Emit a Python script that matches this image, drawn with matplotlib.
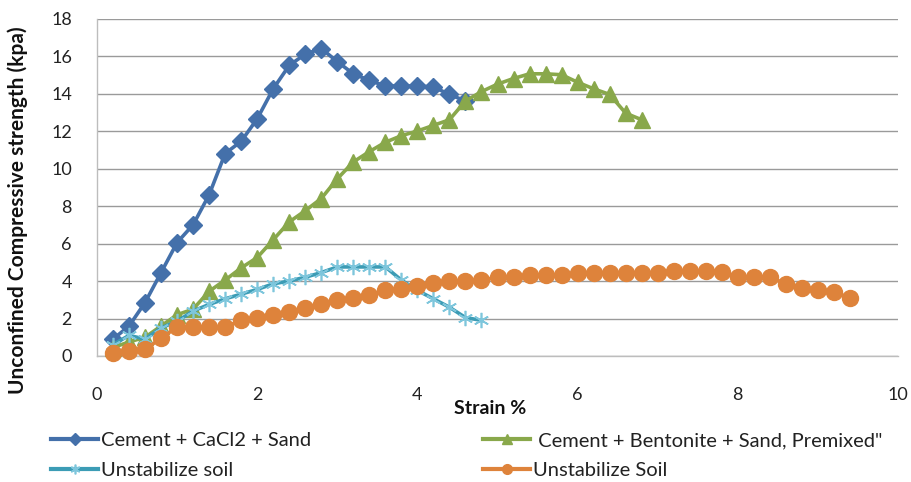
import matplotlib
matplotlib.use("Agg")
import matplotlib.pyplot as plt
from matplotlib.lines import Line2D

plt.rcParams['font.family'] = ['Lato', 'DejaVu Sans']

# Data (strain %, strength kpa)
blue_x = [0.2, 0.4, 0.6, 0.8, 1.0, 1.2, 1.4, 1.6, 1.8, 2.0, 2.2, 2.4, 2.6, 2.8, 3.0, 3.2,
          3.4, 3.6, 3.8, 4.0, 4.2, 4.4, 4.6]
blue_y = [0.9, 1.6, 2.85, 4.45, 6.05, 7.0, 8.6, 10.8, 11.45, 12.65, 14.25, 15.5, 16.1, 16.4,
          15.7, 15.05, 14.7, 14.4, 14.4, 14.4, 14.35, 13.95, 13.6]

green_x = [0.2, 0.4, 0.6, 0.8, 1.0, 1.2, 1.4, 1.6, 1.8, 2.0, 2.2, 2.4, 2.6, 2.8, 3.0, 3.2,
           3.4, 3.6, 3.8, 4.0, 4.2, 4.4, 4.6, 4.8, 5.0, 5.2, 5.4, 5.6, 5.8, 6.0, 6.2, 6.4,
           6.6, 6.8]
green_y = [0.45, 0.75, 1.0, 1.6, 2.2, 2.5, 3.45, 4.05, 4.7, 5.25, 6.2, 7.15, 7.75, 8.4,
           9.45, 10.35, 10.9, 11.4, 11.75, 12.0, 12.3, 12.6, 13.6, 14.1, 14.5, 14.8, 15.05,
           15.05, 15.0, 14.6, 14.25, 13.95, 12.95, 12.6]

cyan_x = [0.2, 0.4, 0.6, 0.8, 1.0, 1.2, 1.4, 1.6, 1.8, 2.0, 2.2, 2.4, 2.6, 2.8, 3.0, 3.2,
          3.4, 3.6, 3.8, 4.0, 4.2, 4.4, 4.6, 4.8]
cyan_y = [0.6, 1.1, 0.9, 1.5, 1.85, 2.4, 2.75, 3.05, 3.3, 3.55, 3.85, 4.0, 4.2, 4.45, 4.75,
          4.75, 4.75, 4.75, 4.05, 3.5, 3.05, 2.6, 2.05, 1.9]

orange_x = [0.2, 0.4, 0.6, 0.8, 1.0, 1.2, 1.4, 1.6, 1.8, 2.0, 2.2, 2.4, 2.6, 2.8, 3.0, 3.2,
            3.4, 3.6, 3.8, 4.0, 4.2, 4.4, 4.6, 4.8, 5.0, 5.2, 5.4, 5.6, 5.8, 6.0, 6.2, 6.4,
            6.6, 6.8, 7.0, 7.2, 7.4, 7.6, 7.8, 8.0, 8.2, 8.4, 8.6, 8.8, 9.0, 9.2, 9.4]
orange_y = [0.15, 0.25, 0.35, 0.95, 1.55, 1.55, 1.55, 1.55, 1.9, 2.05, 2.2, 2.35, 2.55, 2.8,
            3.0, 3.1, 3.25, 3.5, 3.6, 3.75, 3.9, 4.0, 4.0, 4.05, 4.2, 4.2, 4.3, 4.3, 4.3,
            4.45, 4.45, 4.45, 4.45, 4.45, 4.45, 4.55, 4.55, 4.55, 4.5, 4.2, 4.2, 4.2, 3.85,
            3.65, 3.5, 3.4, 3.1]

labels = ["Cement + CaCl2 + Sand", " Cement + Bentonite + Sand, Premixed\"",
          "Unstabilize soil", "Unstabilize Soil"]
x_ticks = [0, 2, 4, 6, 8, 10]
y_ticks = [0, 2, 4, 6, 8, 10, 12, 14, 16, 18]

W, H = 912, 482
fig = plt.figure(figsize=(W / 100, H / 100), dpi=100)
ax = fig.add_axes([97 / W, 1 - 356 / H, (898 - 97) / W, (356 - 18.5) / H])

c_blue = '#4470AA'
c_green = '#89A84B'
c_cyan = '#3C9CB5'
c_cyan_m = '#7EC6DC'
c_orange = '#DE833B'

styles = [
    dict(color=c_blue, marker='D', ms=9.5, mfc=c_blue, mec=c_blue),
    dict(color=c_green, marker='^', ms=11.5, mfc=c_green, mec=c_green),
    dict(color=c_cyan, marker=(6, 2, 0), ms=11, mec=c_cyan_m, mew=1.2),
    dict(color=c_orange, marker='o', ms=11.5, mfc=c_orange, mec=c_orange),
]
series = [(blue_x, blue_y), (green_x, green_y), (cyan_x, cyan_y), (orange_x, orange_y)]
for i, ((xs, ys), st) in enumerate(zip(series, styles)):
    ax.plot(xs, ys, lw=2.6, zorder=3 + i, clip_on=False, **st)

ax.set_xlim(0, 10)
ax.set_ylim(0, 18)
ax.set_xticks(x_ticks)
ax.set_yticks(y_ticks)
ax.set_xticklabels([str(t) for t in x_ticks])
ax.set_yticklabels([str(t) for t in y_ticks])
ax.tick_params(axis='both', length=0, labelsize=13, colors='#222222')
ax.tick_params(axis='y', pad=18)
ax.tick_params(axis='x', pad=22)
ax.grid(axis='y', color='#9a9a9a', lw=1.0)
ax.set_axisbelow(True)
for s in ['top', 'right']:
    ax.spines[s].set_visible(False)
for s in ['left', 'bottom']:
    ax.spines[s].set_color('#bdbdbd')
    ax.spines[s].set_linewidth(1.0)

fig.text(18 / W, 1 - 210 / H, "Unconfined Compressive strength (kpa)", rotation=90,
         ha='center', va='center', fontsize=15, fontweight='bold', color='#111111')
fig.text(490 / W, 1 - 408 / H, "Strain %", ha='center', va='center', fontsize=14,
         fontweight='bold', color='#111111')

leg_ms = [6, 7, 7, 7]
proxies = []
for st, ms in zip(styles, leg_ms):
    d = dict(st)
    d['ms'] = ms
    proxies.append(Line2D([], [], lw=3, **d))

common = dict(loc='upper left', frameon=False, fontsize=14.5, handlelength=2.35,
              handletextpad=0.12, labelspacing=0.62, borderaxespad=0, borderpad=0)
fig.legend([proxies[0], proxies[2]], [labels[0], labels[2]],
           bbox_to_anchor=(51 / W, 1 - 432 / H), **common)
fig.legend([proxies[1], proxies[3]], [labels[1], labels[3]],
           bbox_to_anchor=(483 / W, 1 - 432 / H), **common)
for lg in fig.legends:
    for t in lg.get_texts():
        t.set_color('#222222')

fig.savefig("out.png", dpi=100)
